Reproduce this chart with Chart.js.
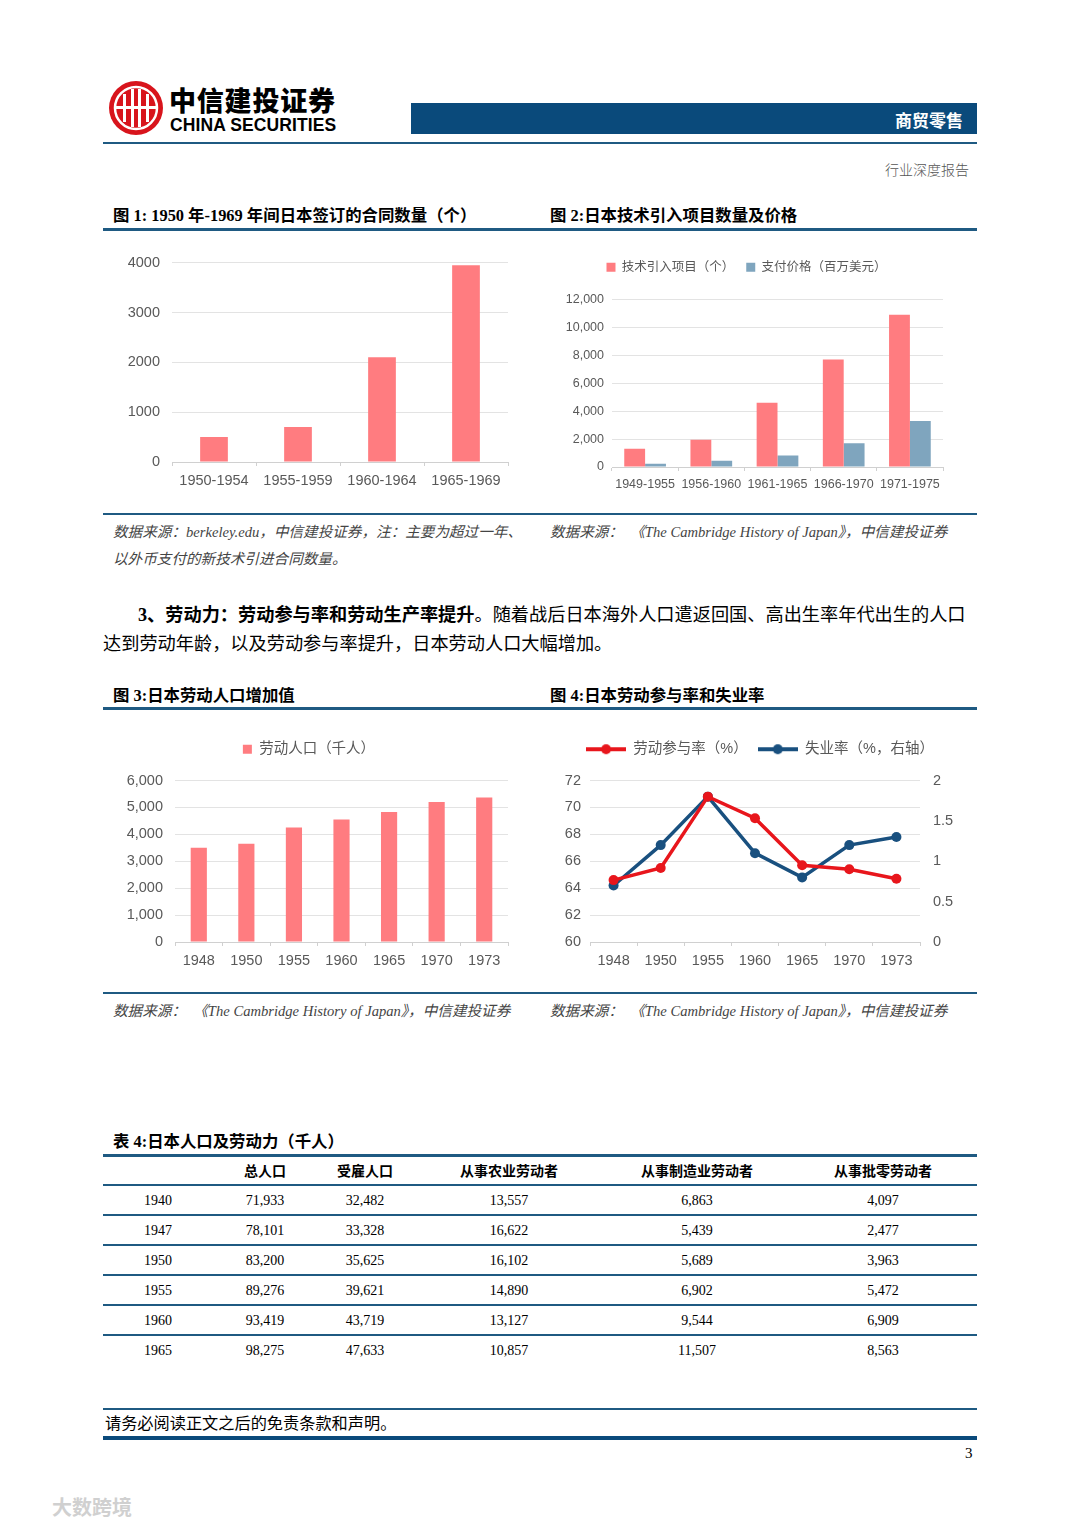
<!DOCTYPE html>
<html>
<head>
<meta charset="utf-8">
<script src="https://cdn.jsdelivr.net/npm/chart.js@4.4.1/dist/chart.umd.min.js"></script>
<style>
  html, body { margin: 0; padding: 0; background: #fff; }
  #page { position: relative; width: 1080px; height: 1527px; overflow: hidden; font-family: "Liberation Serif", "Noto Sans CJK SC", serif; color: #000; }
  .abs { position: absolute; white-space: nowrap; }
  .rule { position: absolute; left: 103px; width: 874px; background: #1f5a82; }
  .figtitle { font-weight: bold; font-size: 16.4px; }
  .src { font-style: italic; font-size: 14.6px; color: #444; }
  .para { font-size: 18.2px; }
  canvas { position: absolute; }
  .cell { position: absolute; transform: translateX(-50%); white-space: nowrap; font-size: 14px; }
  .hcell { font-family: "Noto Sans CJK SC", sans-serif; font-weight: bold; font-size: 14px; }
</style>
</head>
<body>
<div id="page">
  <!-- header -->
  <svg class="abs" style="left:108px;top:80px" width="56" height="56" viewBox="0 0 56 56">
    <circle cx="28" cy="28" r="27" fill="#d8141c"/>
    <circle cx="28" cy="28" r="21" fill="none" stroke="#fff" stroke-width="2.5"/>
    <rect x="15" y="14" width="3" height="28" fill="#fff"/>
    <rect x="38" y="14" width="3" height="28" fill="#fff"/>
    <rect x="23" y="9" width="3" height="38" fill="#fff"/>
    <rect x="30" y="9" width="3" height="38" fill="#fff"/>
    <rect x="8" y="26" width="40" height="3" fill="#fff"/>
  </svg>
  <div class="abs" style="left:169px;top:80px;font-family:'Noto Sans CJK SC';font-weight:900;font-size:27px;letter-spacing:0.8px">中信建投证券</div>
  <div class="abs" style="left:170px;top:115px;font-family:'Liberation Sans';font-weight:bold;font-size:17.5px;letter-spacing:0.1px">CHINA SECURITIES</div>
  <div class="abs" style="left:411px;top:103px;width:566px;height:31px;background:#0a4a7b"></div>
  <div class="abs" style="right:117px;top:107px;color:#fff;font-family:'Noto Sans CJK SC';font-weight:bold;font-size:17px">商贸零售</div>
  <div class="rule" style="top:142px;height:2px"></div>
  <div class="abs" style="left:885px;top:159px;font-size:14px;color:#555;font-family:'Noto Sans CJK SC';font-weight:300">行业深度报告</div>

  <!-- figure 1 / 2 titles -->
  <div class="abs figtitle" style="left:113px;top:202px">图 1: 1950 年-1969 年间日本签订的合同数量（个）</div>
  <div class="abs figtitle" style="left:550px;top:202px">图 2:日本技术引入项目数量及价格</div>
  <div class="rule" style="top:228px;height:3px"></div>

  <canvas id="c1" style="left:110px;top:242px" width="405" height="250"></canvas>
  <canvas id="c2" style="left:550px;top:249px" width="400" height="246"></canvas>

  <div class="rule" style="top:513px;height:2px"></div>
  <div class="abs src" style="left:113px;top:520px">数据来源：berkeley.edu，中信建投证券，注：主要为超过一年、</div>
  <div class="abs src" style="left:113px;top:547px">以外币支付的新技术引进合同数量。</div>
  <div class="abs src" style="left:550px;top:520px">数据来源：&nbsp;&nbsp;《The Cambridge History of Japan》，中信建投证券</div>

  <div class="abs para" style="left:138px;top:600px"><b>3、劳动力：劳动参与率和劳动生产率提升</b>。随着战后日本海外人口遣返回国、高出生率年代出生的人口</div>
  <div class="abs para" style="left:103px;top:629px">达到劳动年龄，以及劳动参与率提升，日本劳动人口大幅增加。</div>

  <!-- figure 3 / 4 titles -->
  <div class="abs figtitle" style="left:113px;top:682px">图 3:日本劳动人口增加值</div>
  <div class="abs figtitle" style="left:550px;top:682px">图 4:日本劳动参与率和失业率</div>
  <div class="rule" style="top:707px;height:3px"></div>

  <canvas id="c3" style="left:110px;top:732px" width="405" height="240"></canvas>
  <canvas id="c4" style="left:550px;top:732px" width="410" height="240"></canvas>

  <div class="rule" style="top:992px;height:2px"></div>
  <div class="abs src" style="left:113px;top:999px">数据来源：&nbsp;&nbsp;《The Cambridge History of Japan》，中信建投证券</div>
  <div class="abs src" style="left:550px;top:999px">数据来源：&nbsp;&nbsp;《The Cambridge History of Japan》，中信建投证券</div>

  <!-- table -->
  <div class="abs figtitle" style="left:113px;top:1128px">表 4:日本人口及劳动力（千人）</div>
  <div id="tbl"></div>

  <!-- footer -->
  <div class="rule" style="top:1408px;height:2px"></div>
  <div class="abs" style="left:105px;top:1410px;font-size:16.2px">请务必阅读正文之后的免责条款和声明。</div>
  <div class="rule" style="top:1436px;height:4px;background:#0a4a7b"></div>
  <div class="abs" style="left:965px;top:1445px;font-size:15px">3</div>
  <div class="abs" style="left:52px;top:1492px;font-size:20px;color:#d0d0d0;font-family:'Noto Sans CJK SC';font-weight:bold">大数跨境</div>
</div>

<script>
// figure 1: contracts signed, 1950-1969
const contractPeriods = ['1950-1954', '1955-1959', '1960-1964', '1965-1969'];
const contractCounts = [500, 700, 2100, 3950];

// figure 2: technology imports and payments
const techPeriods = ['1949-1955', '1956-1960', '1961-1965', '1966-1970', '1971-1975'];
const techProjects = [1300, 1950, 4600, 7700, 10900];
const techPayments = [230, 450, 830, 1700, 3300];

// figure 3: labour force increase (thousand)
const laborYears = ['1948', '1950', '1955', '1960', '1965', '1970', '1973'];
const laborForce = [3500, 3650, 4250, 4550, 4830, 5200, 5370];

// figure 4: participation rate and unemployment
const participationRate = [64.6, 65.5, 70.8, 69.2, 65.7, 65.4, 64.7];
const unemploymentRate = [0.7, 1.2, 1.8, 1.1, 0.8, 1.2, 1.3];

// table 4
const tableHeaders = ['', '总人口', '受雇人口', '从事农业劳动者', '从事制造业劳动者', '从事批零劳动者'];
const tableRows = [
  ['1940', '71,933', '32,482', '13,557', '6,863', '4,097'],
  ['1947', '78,101', '33,328', '16,622', '5,439', '2,477'],
  ['1950', '83,200', '35,625', '16,102', '5,689', '3,963'],
  ['1955', '89,276', '39,621', '14,890', '6,902', '5,472'],
  ['1960', '93,419', '43,719', '13,127', '9,544', '6,909'],
  ['1965', '98,275', '47,633', '10,857', '11,507', '8,563']
];

const RED = '#ff7c80';
const STEEL = '#7fa5be';
const TICK = '#595959';
const GRID = '#e3e3e3';
const FONT = '"Liberation Sans", "Noto Sans CJK SC", sans-serif';

Chart.defaults.font.family = FONT;
Chart.defaults.color = TICK;
Chart.defaults.animation = false;
Chart.defaults.responsive = false;
Chart.defaults.devicePixelRatio = 1;

// extra room under the legend
const legendGap = {
  id: 'legendGap',
  beforeInit(chart, args, opts) {
    const fit = chart.legend.fit;
    chart.legend.fit = function () {
      fit.call(this);
      this.height += opts.gap || 0;
    };
  }
};

function xAxis(size, axisH) {
  return {
    grid: { display: true, drawOnChartArea: false, offset: true, tickLength: 4, color: '#d0d0d0' },
    border: { color: '#d0d0d0' },
    ticks: { color: TICK, font: { size: size }, padding: 6, maxRotation: 0, autoSkip: false },
    afterFit: s => { s.height = axisH; }
  };
}

function yAxis(min, max, step, size, w, pad, cb) {
  const ax = {
    min: min, max: max,
    grid: { color: GRID, drawTicks: false },
    border: { display: false },
    ticks: { stepSize: step, color: TICK, font: { size: size }, padding: pad },
    afterFit: s => { s.width = w; }
  };
  if (cb) ax.ticks.callback = cb;
  return ax;
}

new Chart(document.getElementById('c1'), {
  type: 'bar',
  data: {
    labels: contractPeriods,
    datasets: [{ label: '合同数量', data: contractCounts, backgroundColor: RED, barPercentage: 0.33, categoryPercentage: 1 }]
  },
  options: {
    layout: { padding: { top: 8, right: 7 } },
    plugins: { legend: { display: false }, tooltip: { enabled: false } },
    scales: {
      x: xAxis(14.5, 30),
      y: yAxis(0, 4000, 1000, 14.5, 62, 12, v => String(v))
    }
  }
});

new Chart(document.getElementById('c2'), {
  type: 'bar',
  plugins: [legendGap],
  data: {
    labels: techPeriods,
    datasets: [
      { label: '技术引入项目（个）', data: techProjects, backgroundColor: RED, barPercentage: 1, categoryPercentage: 0.63 },
      { label: '支付价格（百万美元）', data: techPayments, backgroundColor: STEEL, barPercentage: 1, categoryPercentage: 0.63 }
    ]
  },
  options: {
    layout: { padding: { right: 7, left: 0 } },
    plugins: {
      legendGap: { gap: 16 },
      legend: { labels: { boxWidth: 9, boxHeight: 9, color: TICK, font: { size: 12.5 }, padding: 12 } },
      tooltip: { enabled: false }
    },
    scales: {
      x: xAxis(12.5, 28),
      y: yAxis(0, 12000, 2000, 12.5, 62, 8)
    }
  }
});

new Chart(document.getElementById('c3'), {
  type: 'bar',
  plugins: [legendGap],
  data: {
    labels: laborYears,
    datasets: [{ label: '劳动人口（千人）', data: laborForce, backgroundColor: RED, barPercentage: 0.34, categoryPercentage: 1 }]
  },
  options: {
    layout: { padding: { right: 7 } },
    plugins: {
      legendGap: { gap: 14 },
      legend: { labels: { boxWidth: 9, boxHeight: 9, color: TICK, font: { size: 14.5 }, padding: 10 } },
      tooltip: { enabled: false }
    },
    scales: {
      x: xAxis(14.5, 30),
      y: yAxis(0, 6000, 1000, 14.5, 65, 12)
    }
  }
});

// legend marker: short line with a dot
function lineMarker(color) {
  const c = document.createElement('canvas');
  c.width = 40; c.height = 12;
  const g = c.getContext('2d');
  g.strokeStyle = color; g.lineWidth = 4;
  g.beginPath(); g.moveTo(0, 6); g.lineTo(40, 6); g.stroke();
  g.fillStyle = color;
  g.beginPath(); g.arc(20, 6, 5, 0, Math.PI * 2); g.fill();
  return c;
}
const redMarker = lineMarker('#e8161c');
const blueMarker = lineMarker('#19507f');

new Chart(document.getElementById('c4'), {
  type: 'line',
  plugins: [legendGap],
  data: {
    labels: laborYears,
    datasets: [
      { label: '劳动参与率（%）', data: participationRate, yAxisID: 'y', borderColor: '#e8161c', backgroundColor: '#e8161c',
        borderWidth: 3.5, pointRadius: 5, pointBorderWidth: 0, tension: 0 },
      { label: '失业率（%，右轴）', data: unemploymentRate, yAxisID: 'y1', borderColor: '#19507f', backgroundColor: '#19507f',
        borderWidth: 3.5, pointRadius: 5, pointBorderWidth: 0, tension: 0 }
    ]
  },
  options: {
    layout: { padding: { left: 10 } },
    plugins: {
      legendGap: { gap: 14 },
      legend: {
        labels: {
          usePointStyle: true, pointStyleWidth: 40, color: TICK, font: { size: 14.5 }, padding: 10,
          generateLabels: chart => chart.data.datasets.map((ds, i) => ({
            text: ds.label, fontColor: TICK, pointStyle: i === 0 ? redMarker : blueMarker,
            datasetIndex: i, hidden: false, lineWidth: 0
          }))
        }
      },
      tooltip: { enabled: false }
    },
    scales: {
      x: Object.assign(xAxis(14.5, 30), { offset: true }),
      y: yAxis(60, 72, 2, 14.5, 30, 9),
      y1: Object.assign(yAxis(0, 2, 0.5, 14.5, 40, 5, v => String(v)), { position: 'right', grid: { display: false } })
    }
  }
});

// table
const colX = [158, 265, 365, 509, 697, 883];
const tbl = document.getElementById('tbl');
function addRule(top, h) {
  const d = document.createElement('div');
  d.className = 'rule'; d.style.top = top + 'px'; d.style.height = h + 'px';
  tbl.appendChild(d);
}
function addCell(text, x, top, cls) {
  const d = document.createElement('div');
  d.className = 'cell' + (cls ? ' ' + cls : '');
  d.style.left = x + 'px'; d.style.top = top + 'px';
  d.textContent = text;
  tbl.appendChild(d);
}
addRule(1154, 3);
tableHeaders.forEach((h, i) => addCell(h, colX[i], 1160, 'hcell'));
tableRows.forEach((row, r) => {
  addRule(1184 + r * 30, 2);
  row.forEach((v, i) => addCell(v, colX[i], 1193 + r * 30));
});
</script>
</body>
</html>
